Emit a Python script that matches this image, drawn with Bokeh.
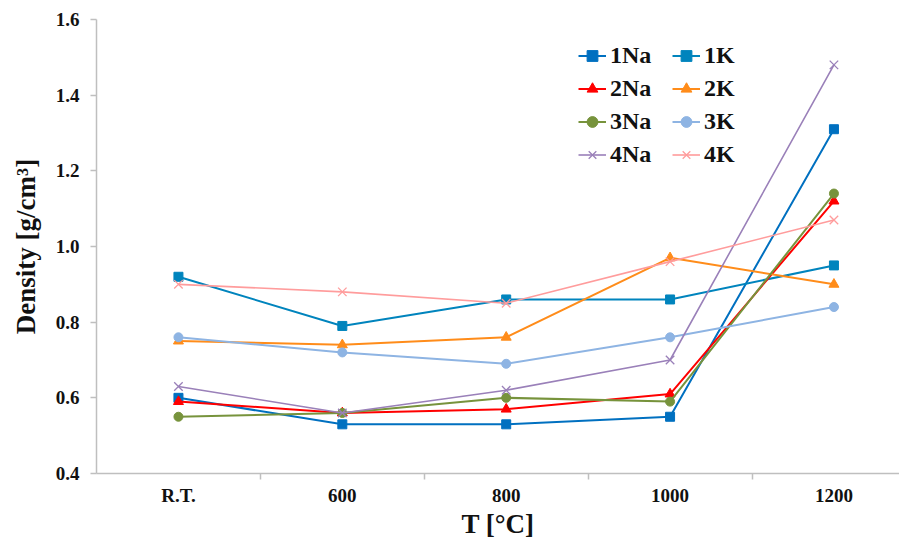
from bokeh.plotting import figure
from bokeh.models import FixedTicker, Range1d, Legend, LegendItem
from bokeh.embed import file_html
from bokeh.resources import INLINE

categories = ["R.T.", "600", "800", "1000", "1200"]
y_ticks = [0.4, 0.6, 0.8, 1.0, 1.2, 1.4, 1.6]

s_1Na = [0.60, 0.53, 0.53, 0.55, 1.31]
s_1K = [0.92, 0.79, 0.86, 0.86, 0.95]
s_2Na = [0.59, 0.56, 0.57, 0.61, 1.12]
s_2K = [0.75, 0.74, 0.76, 0.97, 0.90]
s_3Na = [0.55, 0.56, 0.60, 0.59, 1.14]
s_3K = [0.76, 0.72, 0.69, 0.76, 0.84]
s_4Na = [0.63, 0.56, 0.62, 0.70, 1.48]
s_4K = [0.90, 0.88, 0.85, 0.96, 1.07]

series = [
    ("1Na", s_1Na, "#0070C0", "square"),
    ("1K", s_1K, "#0084BD", "square"),
    ("2Na", s_2Na, "#FF0000", "triangle"),
    ("2K", s_2K, "#FF8C1A", "triangle"),
    ("3Na", s_3Na, "#77933C", "circle"),
    ("3K", s_3K, "#8EB4E3", "circle"),
    ("4Na", s_4Na, "#9A80B9", "x"),
    ("4K", s_4K, "#FF9C9C", "x"),
]

FONT = "Liberation Serif"
TXT = "#111111"
AX = "#BFBFBF"
xs = list(range(len(categories)))

p = figure(width=899, height=541, output_backend="svg", toolbar_location=None,
           x_range=Range1d(-0.5, 4.40), y_range=Range1d(0.4, 1.6),
           min_border_left=96, min_border_right=0, min_border_top=19, min_border_bottom=67)
p.outline_line_color = None
p.xgrid.grid_line_color = None
p.ygrid.grid_line_color = None
p.background_fill_color = "white"

items = {}
for name, vals, color, marker in series:
    lw = 1.6 if marker == "x" else 2
    r1 = p.line(xs, vals, line_color=color, line_width=lw)
    if marker == "x":
        r2 = p.scatter(xs, vals, marker="x", size=12, line_color=color, line_width=1.3)
    elif marker == "triangle":
        r2 = p.scatter(xs, vals, marker="triangle", size=10, fill_color=color, line_color=color)
    elif marker == "circle":
        r2 = p.scatter(xs, vals, marker="circle", size=9, fill_color=color, line_color=color)
    else:
        r2 = p.scatter(xs, vals, marker="square", size=9, fill_color=color, line_color=color)
    items[name] = LegendItem(label=name, renderers=[r1, r2])

# axes
p.xaxis.ticker = FixedTicker(ticks=xs, minor_ticks=[0.5, 1.5, 2.5, 3.5])
p.xaxis.major_label_overrides = {i: c for i, c in enumerate(categories)}
p.xaxis.major_tick_out = 0
p.xaxis.major_tick_in = 0
p.xaxis.minor_tick_out = 6
p.xaxis.minor_tick_in = 0
p.xaxis.minor_tick_line_color = AX
p.xaxis.minor_tick_line_width = 1.5
p.xaxis.axis_line_color = AX
p.xaxis.axis_line_width = 1.5
p.xaxis.major_label_text_font = FONT
p.xaxis.major_label_text_font_style = "bold"
p.xaxis.major_label_text_font_size = "19px"
p.xaxis.major_label_text_color = TXT
p.xaxis.major_label_standoff = 5
p.xaxis.axis_label = "T [°C]"
p.xaxis.axis_label_text_font = FONT
p.xaxis.axis_label_text_font_style = "bold"
p.xaxis.axis_label_text_font_size = "27px"
p.xaxis.axis_label_text_color = TXT
p.xaxis.axis_label_standoff = 0

p.yaxis.ticker = FixedTicker(ticks=y_ticks, minor_ticks=[])
p.yaxis.major_label_overrides = {t: f"{t:.1f}" for t in y_ticks}
p.yaxis.major_tick_out = 6
p.yaxis.major_tick_in = 0
p.yaxis.major_tick_line_color = AX
p.yaxis.major_tick_line_width = 1.5
p.yaxis.axis_line_color = AX
p.yaxis.axis_line_width = 1.5
p.yaxis.major_label_text_font = FONT
p.yaxis.major_label_text_font_style = "bold"
p.yaxis.major_label_text_font_size = "19px"
p.yaxis.major_label_text_color = TXT
p.yaxis.major_label_standoff = 11
p.yaxis.axis_label = "Density [g/cm³]"
p.yaxis.axis_label_text_font = FONT
p.yaxis.axis_label_text_font_style = "bold"
p.yaxis.axis_label_text_font_size = "27px"
p.yaxis.axis_label_text_color = TXT
p.yaxis.axis_label_standoff = 12

order = ["1Na", "2Na", "3Na", "4Na", "1K", "2K", "3K", "4K"]
legend = Legend(items=[items[n] for n in order], ncols=2, location=(482, 305),
                label_text_font=FONT, label_text_font_style="bold",
                label_text_font_size="24px", label_text_color=TXT,
                glyph_width=28, glyph_height=27, label_height=27, label_width=56,
                label_standoff=4, spacing=6, padding=0, margin=0,
                border_line_color=None, background_fill_alpha=0)
p.add_layout(legend, "center")

open("out.html", "w").write(file_html(p, INLINE))
